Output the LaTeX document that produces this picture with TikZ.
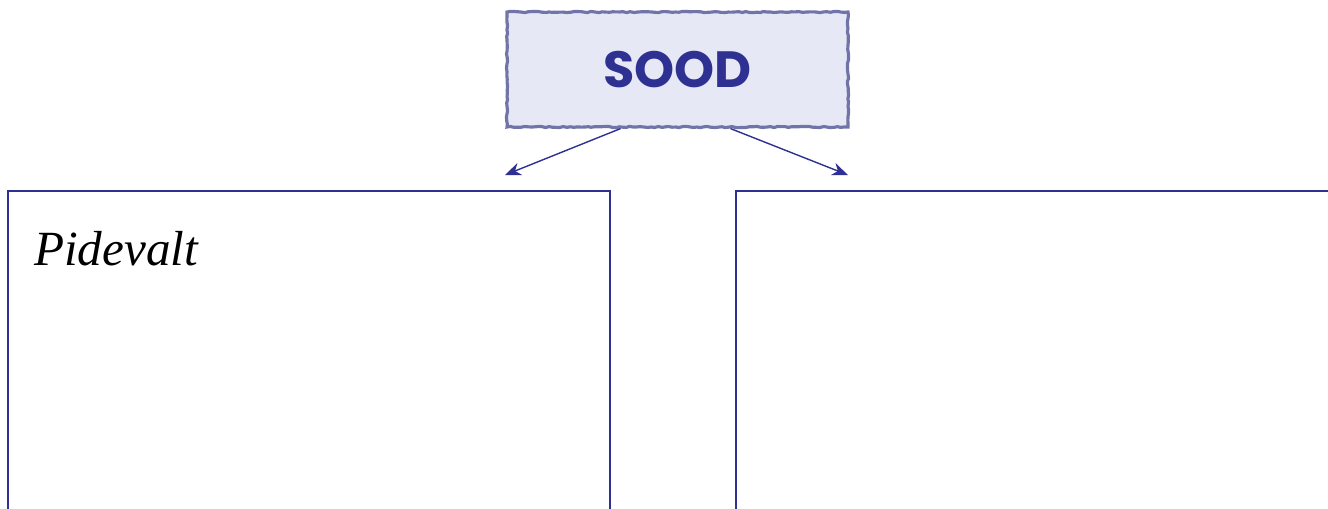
\documentclass[tikz,border=0pt]{standalone}
\usepackage{fontspec}
\setmainfont{Liberation Serif}
\newfontfamily\headfont{Poppins}
\usetikzlibrary{arrows.meta, positioning, decorations.pathmorphing}
\definecolor{navy}{HTML}{2E3192}
\definecolor{slate}{HTML}{7074A8}
\definecolor{softlav}{HTML}{E6E9F5}
\tikzset{
  headbox/.style={
    rectangle, fill=softlav, draw=slate, line width=1.8pt,
    minimum width=341*0.02cm, minimum height=115*0.02cm,
    decorate, decoration={random steps, segment length=2pt, amplitude=0.35pt},
    font=\headfont\bfseries\fontsize{29}{30}\selectfont, text=navy
  },
  panel/.style={draw=navy, line width=1pt},
  arrow/.style={-{Stealth[length=3.2mm,width=2.6mm]}, line width=0.8pt, draw=navy},
  hand/.style={font=\itshape\fontsize{28}{30}\selectfont, anchor=base west},
}
\begin{document}
\begin{tikzpicture}[x=0.02cm, y=-0.02cm]
  \useasboundingbox (0,0) rectangle (1328,508);
  \clip (0,0) rectangle (1328,508);

  \node[headbox] (sood) at (677.5,69.5) {SOOD};

  \draw[panel] (8,540) |- (610,191) -- (610,540);
  \draw[panel] (736,540) |- (1360,191);
  \node[hand] (pidevalt) at (28,265) {Pidevalt};

  \coordinate (lefttip) at (505,175);
  \coordinate (righttip) at (848,175);
  \draw[arrow] ([xshift=-57*0.02cm]sood.south) -- (lefttip);
  \draw[arrow] ([xshift=53*0.02cm]sood.south) -- (righttip);
\end{tikzpicture}
\end{document}
